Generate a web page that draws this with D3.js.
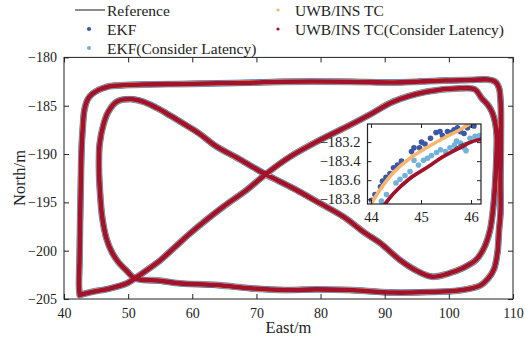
<!DOCTYPE html>
<html>
<head>
<meta charset="utf-8">
<script src="https://cdn.jsdelivr.net/npm/d3@7"></script>
<style>
body { margin: 0; background: #fff; }
svg text { font-family: "Liberation Serif", "Times New Roman", serif; fill: #222; }
</style>
</head>
<body>
<div id="chart"></div>
<script>
// one lap of the track, [East, North] in metres
var diagonalUp = [[42.45,-204.6],[43.2,-204.45],[44.52,-204.24],[47.17,-203.91],[49.78,-203.38],[51.07,-202.86],
  [52.94,-202.0],[54.97,-201.02],[57.31,-199.62],[59.64,-198.22],[61.98,-196.93],[64.84,-195.45],
  [68.48,-193.72],[71.42,-192.1],[75.24,-190.28],[79.4,-188.72],[84.6,-187.0],[87.71,-185.91],[91.29,-184.59],
  [96.55,-183.55],[101.74,-183.2],[104.08,-183.32],[105.09,-184.2],[106.1,-184.93],[106.73,-185.65],
  [107.2,-186.69],[107.46,-188.03]];
var rightInner = [[107.45,-189.6],[107.25,-192.7],[106.96,-195.27],[106.42,-197.86],[105.48,-199.72],
  [104.23,-200.96],[102.2,-201.79],[99.71,-202.41],[97.37,-202.69],[95.04,-202.1],[92.39,-200.97],
  [89.27,-199.2],[86.93,-198.17]];
var diagonalDown = [[83.55,-196.48],[79.91,-195.1],[75.75,-193.55],[71.42,-192.1],[67.44,-190.57],
  [63.54,-189.12],[61.2,-187.93],[58.86,-186.95],[56.53,-186.01],[54.5,-185.24],[52.36,-184.59],
  [50.29,-184.31],[48.22,-184.59],[46.91,-185.62],[46.13,-187.0],[45.55,-189],[45.45,-191.5],[45.62,-194],
  [45.95,-196.5],[46.6,-198.7],[47.5,-200.2],[48.5,-201.2],[49.8,-202.1],[51.07,-202.86],[54.97,-203.11],
  [58.09,-203.38]];
var bottomEdge = [[63.81,-203.55],[69.0,-203.89],[74.19,-204.07],[79.4,-204.0],[84.59,-204.07],[91.29,-204.33],
  [96.6,-204.28],[101.74,-204.1],[104.9,-203.6],[106.1,-202.9],[107.04,-201.9],[107.58,-200.2],
  [107.82,-197.9],[108.05,-196.1],[108.05,-192.7],[108.1,-189.5],[108.13,-185.96],[108.05,-184.41],
  [107.82,-183.17],[107.2,-182.5],[106.1,-182.29]];
var topEdge = [[103.3,-182.34],[99.4,-182.39],[95.5,-182.5],[91.29,-182.6],[84.59,-182.52],[74.19,-182.52],
  [69.0,-182.62],[63.81,-182.68],[58.55,-182.75],[52.32,-182.81],[47.17,-182.98],[46.2,-183.16],
  [45.78,-183.25],[45.45,-183.35],[45.11,-183.47],[44.78,-183.6],[44.45,-183.75],[44.25,-183.87],
  [44.0,-184.05],[43.65,-184.4],[43.35,-184.95],[43.12,-185.7],[42.92,-187.34],[42.76,-189.07],
  [42.62,-193],[42.5,-197.5],[42.42,-201],[42.34,-203.7],[42.45,-204.6]];

// zoomed corner (top left of the outer lap), per series
var insetReference = [[44.28,-183.88],[44.45,-183.76],[44.78,-183.6],[45.11,-183.47],[45.45,-183.35],
  [45.78,-183.23],[46.05,-183.18],[46.2,-183.16]];
var insetTC = [[43.98,-183.87],[44.18,-183.7],[44.45,-183.52],[44.78,-183.37],[45.11,-183.26],
  [45.45,-183.16],[45.78,-183.07],[45.97,-183.01]];
var insetTCLatency = [[44.25,-183.87],[44.45,-183.74],[44.78,-183.58],[45.11,-183.47],[45.45,-183.35],
  [45.78,-183.26],[46.05,-183.19],[46.21,-183.17]];
var insetEKF = [[44.01,-183.81],[44.08,-183.75],[44.19,-183.67],[44.23,-183.61],[44.3,-183.57],[44.38,-183.53],
  [44.45,-183.47],[44.53,-183.44],[44.61,-183.4],[44.81,-183.3],[44.86,-183.26],[44.97,-183.26],[45.01,-183.2],
  [45.08,-183.22],[45.19,-183.16],[45.3,-183.1],[45.38,-183.09],[45.43,-183.13],[45.53,-183.09],[45.59,-183.1],
  [45.66,-183.07],[45.73,-183.05],[45.79,-183.09],[45.86,-183.11],[45.93,-183.05],[46.0,-183.02],[46.06,-183.03]];
var insetEKFLatency = [[44.21,-183.82],[44.31,-183.75],[44.5,-183.63],[44.58,-183.59],[44.68,-183.55],
  [44.78,-183.51],[44.86,-183.39],[44.95,-183.44],[45.05,-183.39],[45.13,-183.37],[45.21,-183.34],[45.31,-183.31],
  [45.39,-183.28],[45.49,-183.3],[45.58,-183.26],[45.67,-183.23],[45.71,-183.19],[45.79,-183.21],[45.86,-183.26],
  [45.9,-183.29],[45.98,-183.16],[46.08,-183.14],[46.17,-183.13]];

var xTicks = [40, 50, 60, 70, 80, 90, 100, 110];
var yTicks = [-180, -185, -190, -195, -200, -205];
var insetXTicks = [44, 45, 46];
var insetYTicks = [-183.2, -183.4, -183.6, -183.8];
var seriesNames = ["Reference", "EKF", "EKF(Consider Latency)", "UWB/INS TC", "UWB/INS TC(Consider Latency)"];
var seriesColors = ["#1a1a1a", "#3d56a6", "#72b1da", "#f7b56e", "#a3122b"];

var track = diagonalUp.concat(rightInner, diagonalDown, bottomEdge, topEdge);

var W = 525, H = 345;
var svg = d3.select("#chart").append("svg").attr("width", W).attr("height", H);

var x = d3.scaleLinear().domain([40, 110]).range([64, 513]);
var y = d3.scaleLinear().domain([-205, -180]).range([299, 57.4]);

var line = d3.line()
  .x(function(d) { return x(d[0]); })
  .y(function(d) { return y(d[1]); })
  .curve(d3.curveCatmullRom);

// estimates sit on top of each other at this scale, stacked as bands
var bands = [
  {c: seriesColors[2], w: 6.8},
  {c: seriesColors[1], w: 5.9},
  {c: seriesColors[3], w: 5.3},
  {c: seriesColors[0], w: 1},
  {c: seriesColors[4], w: 4.6}
];
bands.forEach(function(b) {
  svg.append("path")
    .attr("d", line(track) + "Z")
    .attr("fill", "none")
    .attr("stroke", b.c)
    .attr("stroke-width", b.w)
    .attr("stroke-linejoin", "round");
});

function styleAxis(size) {
  return function(g) {
    g.attr("font-family", null);
    g.select(".domain").remove();
    g.selectAll("line").attr("stroke", "#222");
    g.selectAll("text").attr("font-size", size).attr("fill", "#222");
  };
}

svg.append("g").attr("transform", "translate(0,299)")
  .call(d3.axisBottom(x).tickValues(xTicks).tickSizeInner(-5).tickSizeOuter(0).tickPadding(9))
  .call(styleAxis(14));
svg.append("g").attr("transform", "translate(0,57.4)")
  .call(d3.axisTop(x).tickValues(xTicks).tickSizeInner(-5).tickSizeOuter(0).tickFormat(""))
  .call(styleAxis(14));
svg.append("g").attr("transform", "translate(64,0)")
  .call(d3.axisLeft(y).tickValues(yTicks).tickSizeInner(-5).tickSizeOuter(0).tickPadding(7))
  .call(styleAxis(14));
svg.append("g").attr("transform", "translate(513,0)")
  .call(d3.axisRight(y).tickValues(yTicks).tickSizeInner(-5).tickSizeOuter(0).tickFormat(""))
  .call(styleAxis(14));

svg.append("rect").attr("x", 64).attr("y", 57.4).attr("width", 449).attr("height", 241.6)
  .attr("fill", "none").attr("stroke", "#222").attr("stroke-width", 1);

svg.append("text").attr("x", 288.5).attr("y", 333).attr("text-anchor", "middle")
  .attr("font-size", 16.5).text("East/m");
svg.append("text").attr("transform", "translate(25,178) rotate(-90)").attr("text-anchor", "middle")
  .attr("font-size", 16.5).text("North/m");

// inset
var ix = d3.scaleLinear().domain([43.93, 46.2]).range([367.5, 481]);
var iy = d3.scaleLinear().domain([-183.85, -183.01]).range([204, 124]);
var iline = d3.line()
  .x(function(d) { return ix(d[0]); })
  .y(function(d) { return iy(d[1]); })
  .curve(d3.curveCatmullRom);

svg.append("clipPath").attr("id", "insetClip").append("rect")
  .attr("x", 367.5).attr("y", 124).attr("width", 113.5).attr("height", 80);
svg.append("rect").attr("x", 367.5).attr("y", 124).attr("width", 113.5).attr("height", 80).attr("fill", "#fff");

var inset = svg.append("g").attr("clip-path", "url(#insetClip)");
inset.selectAll(".ekf").data(insetEKF).enter().append("circle")
  .attr("cx", function(d) { return ix(d[0]); })
  .attr("cy", function(d) { return iy(d[1]); })
  .attr("r", 2.8).attr("fill", seriesColors[1]);
inset.selectAll(".ekfl").data(insetEKFLatency).enter().append("circle")
  .attr("cx", function(d) { return ix(d[0]); })
  .attr("cy", function(d) { return iy(d[1]); })
  .attr("r", 2.8).attr("fill", seriesColors[2]);
inset.append("path").attr("d", iline(insetTC)).attr("fill", "none")
  .attr("stroke", seriesColors[3]).attr("stroke-width", 3.6).attr("stroke-linecap", "round");
inset.append("path").attr("d", iline(insetReference)).attr("fill", "none")
  .attr("stroke", seriesColors[0]).attr("stroke-width", 0.9);
inset.append("path").attr("d", iline(insetTCLatency)).attr("fill", "none")
  .attr("stroke", seriesColors[4]).attr("stroke-width", 3.6).attr("stroke-linecap", "round");

svg.append("g").attr("transform", "translate(0,204)")
  .call(d3.axisBottom(ix).tickValues(insetXTicks).tickSizeInner(-4).tickSizeOuter(0).tickPadding(8)
    .tickFormat(d3.format("d")))
  .call(styleAxis(14.5));
svg.append("g").attr("transform", "translate(0,124)")
  .call(d3.axisTop(ix).tickValues(insetXTicks).tickSizeInner(-4).tickSizeOuter(0).tickFormat(""))
  .call(styleAxis(14.5));
svg.append("g").attr("transform", "translate(367.5,0)")
  .call(d3.axisLeft(iy).tickValues(insetYTicks).tickSizeInner(-4).tickSizeOuter(0).tickPadding(7)
    .tickFormat(d3.format(".1f")))
  .call(styleAxis(14.5));
svg.append("g").attr("transform", "translate(481,0)")
  .call(d3.axisRight(iy).tickValues(insetYTicks).tickSizeInner(-4).tickSizeOuter(0).tickFormat(""))
  .call(styleAxis(14.5));
svg.append("rect").attr("x", 367.5).attr("y", 124).attr("width", 113.5).attr("height", 80)
  .attr("fill", "none").attr("stroke", "#222").attr("stroke-width", 1.2);

// legend, two columns
var legendPos = [[90, 10], [89, 29], [89, 48], [278, 10], [278, 29]];
var legend = svg.append("g");
seriesNames.forEach(function(name, i) {
  var p = legendPos[i];
  if (i === 0) {
    legend.append("line").attr("x1", 75).attr("x2", 105).attr("y1", p[1]).attr("y2", p[1])
      .attr("stroke", seriesColors[0]).attr("stroke-width", 1);
  } else {
    legend.append("circle").attr("cx", p[0]).attr("cy", p[1])
      .attr("r", i < 3 ? 2.1 : 1.6).attr("fill", seriesColors[i]);
  }
  legend.append("text").attr("x", p[0] < 200 ? 107 : 295).attr("y", p[1] + 5.5)
    .attr("font-size", 15.5).text(name);
});
</script>
</body>
</html>
